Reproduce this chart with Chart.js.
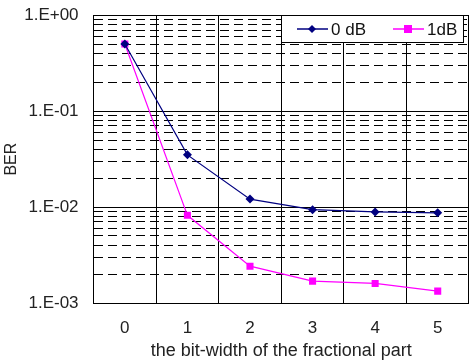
<!DOCTYPE html>
<html>
<head>
<meta charset="utf-8">
<script src="https://cdn.jsdelivr.net/npm/chart.js@4.4.0/dist/chart.umd.min.js"></script>
<style>
  html, body { margin: 0; padding: 0; background: #fff; overflow: hidden; }
  #wrap { width: 487px; height: 372px; margin-top: -10px; margin-left: -13px; }
</style>
</head>
<body>
<div id="wrap"><canvas id="grafica"></canvas></div>
<script>
    // bit-width of fractional part
    let categorias = ["0", "1", "2", "3", "4", "5"];
    let ber0dB = [0.5, 0.035, 0.0121, 0.0094, 0.0089, 0.0087];
    let ber1dB = [0.5, 0.0082, 0.00242, 0.00169, 0.0016, 0.00133];
    let etiquetas = ["0 dB", "1dB"];

    let fuente = "'Liberation Sans', Arial, sans-serif";

    function mantisa(v) {
        let e = Math.floor(Math.log10(v) + 1e-9);
        return v / Math.pow(10, e);
    }
    function esDecada(v) {
        return Math.abs(mantisa(v) - 1) < 1e-6;
    }
    function esEntera(v) {
        let m = mantisa(v);
        return Math.abs(m - Math.round(m)) < 1e-6;
    }

    // legend box drawn inside the plot, top right
    let leyenda = {
        id: "leyenda",
        afterDraw(chart) {
            let ctx = chart.ctx;
            let a = chart.chartArea;
            let w = 182, h = 27;
            let x0 = Math.round(a.right) - 6 - w, y0 = Math.round(a.top);
            ctx.save();
            ctx.fillStyle = "#fff";
            ctx.fillRect(x0, y0, w, h);
            ctx.strokeStyle = "#000";
            ctx.lineWidth = 1;
            ctx.strokeRect(x0 + 0.5, y0 + 0.5, w, h);
            ctx.font = "17px " + fuente;
            ctx.textBaseline = "middle";
            let cy = y0 + 14;
            chart.data.datasets.forEach(function (ds, i) {
                let lx = x0 + 16 + i * 96;
                ctx.strokeStyle = ds.borderColor;
                ctx.lineWidth = 1.5;
                ctx.beginPath();
                ctx.moveTo(lx, cy);
                ctx.lineTo(lx + 31, cy);
                ctx.stroke();
                ctx.fillStyle = ds.backgroundColor;
                let mx = lx + 15;
                if (ds.pointStyle === "rectRot") {
                    ctx.beginPath();
                    ctx.moveTo(mx, cy - 4);
                    ctx.lineTo(mx + 4, cy);
                    ctx.lineTo(mx, cy + 4);
                    ctx.lineTo(mx - 4, cy);
                    ctx.closePath();
                    ctx.fill();
                } else {
                    ctx.fillRect(mx - 4, cy - 4, 8, 8);
                }
                ctx.fillStyle = "#111";
                ctx.fillText(ds.label, lx + 34, cy + 1);
            });
            ctx.restore();
        }
    };

    let grafica = document.getElementById("grafica").getContext("2d");

    var chart = new Chart(grafica, {
        type: "line",
        data: {
            labels: categorias,
            datasets: [
                {
                    label: etiquetas[0],
                    data: ber0dB,
                    borderColor: "#000080",
                    backgroundColor: "#000080",
                    borderWidth: 1.2,
                    pointStyle: "rectRot",
                    pointRadius: 4.5,
                    pointBorderWidth: 0,
                    tension: 0
                },
                {
                    label: etiquetas[1],
                    data: ber1dB,
                    borderColor: "#ff00ff",
                    backgroundColor: "#ff00ff",
                    borderWidth: 1.2,
                    pointStyle: "rect",
                    pointRadius: 5,
                    pointBorderWidth: 0,
                    tension: 0
                }
            ]
        },
        options: {
            responsive: true,
            maintainAspectRatio: false,
            animation: false,
            layout: { padding: { top: 0, right: 0, left: 0, bottom: 0 } },
            plugins: {
                legend: { display: false },
                tooltip: { enabled: false }
            },
            scales: {
                x: {
                    offset: true,
                    grid: { offset: true, color: "#000", lineWidth: 1, drawTicks: false },
                    border: { color: "#000", width: 1 },
                    ticks: { color: "#222", font: { family: fuente, size: 17 }, padding: 15 },
                    title: {
                        display: true,
                        text: "the bit-width of the fractional part",
                        color: "#222",
                        font: { family: fuente, size: 18 },
                        padding: { top: -13, bottom: 0 }
                    }
                },
                y: {
                    type: "logarithmic",
                    min: 0.001,
                    max: 1,
                    grid: {
                        color: function (c) {
                            if (!c.tick) return "#000";
                            return esEntera(c.tick.value) ? "#000" : "rgba(0,0,0,0)";
                        },
                        lineWidth: 1,
                        drawTicks: false
                    },
                    border: {
                        color: "#000",
                        width: 1,
                        dash: function (c) {
                            if (!c.tick) return [];
                            return esDecada(c.tick.value) ? [] : [9, 5];
                        }
                    },
                    ticks: {
                        autoSkip: false,
                        color: "#222",
                        padding: 15,
                        font: { family: fuente, size: 17 },
                        callback: function (v) {
                            if (!esDecada(v)) return "";
                            let e = Math.round(Math.log10(v));
                            let s = e < 0 ? "-" : "+";
                            let n = Math.abs(e);
                            return "1.E" + s + (n < 10 ? "0" : "") + n;
                        }
                    },
                    title: {
                        display: true,
                        text: "BER",
                        color: "#222",
                        font: { family: fuente, size: 16 },
                        padding: { top: 15, bottom: -12 }
                    }
                }
            }
        },
        plugins: [leyenda]
    })
</script>
</body>
</html>
